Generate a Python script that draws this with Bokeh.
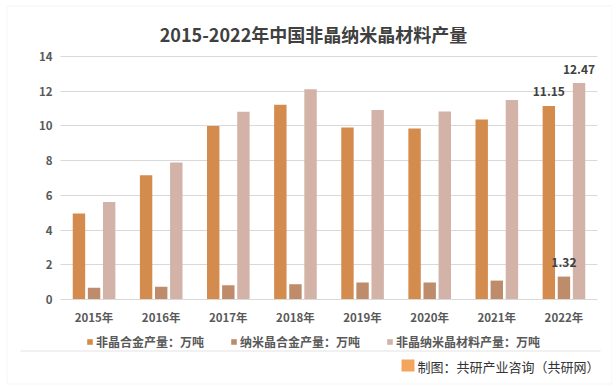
from bokeh.plotting import figure
from bokeh.models import (ColumnDataSource, Range1d, FixedTicker, Legend, LegendItem,
                          Label, BoxAnnotation, LinearAxis, Grid)
from bokeh.transform import dodge
from bokeh.core.properties import value
from bokeh.embed import file_html
from bokeh.resources import INLINE

years = ["2015年", "2016年", "2017年", "2018年", "2019年", "2020年", "2021年", "2022年"]
amorphous = [4.96, 7.16, 10.0, 11.22, 9.91, 9.85, 10.37, 11.15]
nanocrystal = [0.67, 0.73, 0.82, 0.88, 0.98, 0.98, 1.09, 1.32]
total = [5.62, 7.89, 10.82, 12.12, 10.92, 10.83, 11.50, 12.47]
series_names = ["非晶合金产量：万吨", "纳米晶合金产量：万吨", "非晶纳米晶材料产量：万吨"]
colors = ["#D48B4E", "#BE8C6B", "#D3B3A8"]
y_ticks = [0, 2, 4, 6, 8, 10, 12, 14]
label_years = ["2022年"]

FONT = "Noto Sans CJK SC"
GRAY = "#595959"

W, H = 612, 386
# plot area in canvas pixels
PL, PR, PT, PB = 60, 597, 56, 299
n = len(years)
kx = (PR - PL) / n
ky = (PB - PT) / y_ticks[-1]

pos = [i + 0.5 for i in range(n)]   # category centres
src = ColumnDataSource(dict(pos=pos, year=years, a=amorphous, n=nanocrystal, t=total))

p = figure(width=W, height=H, title=None,
           x_range=Range1d(-PL / kx, (W - PL) / kx),
           y_range=Range1d(-(H - PB) / ky, y_ticks[-1] + PT / ky),
           x_axis_location=None, y_axis_location=None,
           output_backend="svg", toolbar_location=None, min_border=0)
p.outline_line_color = None
p.xgrid.visible = False
p.ygrid.visible = False

# y axis (fixed at x=0 so it sits at the plot-area edge)
yax = LinearAxis(fixed_location=0, ticker=FixedTicker(ticks=y_ticks))
yax.axis_line_color = None
yax.major_tick_line_color = None
yax.minor_tick_line_color = None
yax.major_tick_out = 0
yax.major_tick_in = 0
yax.major_label_standoff = 8
yax.major_label_text_font = FONT
yax.major_label_text_font_size = "11.5px"
yax.major_label_text_font_style = "bold"
yax.major_label_text_color = GRAY
p.add_layout(yax, "left")

# x axis (fixed at y=0)
xax = LinearAxis(fixed_location=0, ticker=FixedTicker(ticks=pos), bounds=(0, n),
                 major_label_overrides={p_: y_ for p_, y_ in zip(pos, years)})
xax.axis_line_color = "#D9D9D9"
xax.major_tick_line_color = None
xax.minor_tick_line_color = None
xax.major_tick_out = 0
xax.major_tick_in = 0
xax.major_label_standoff = 9
xax.major_label_text_font = FONT
xax.major_label_text_font_size = "11.5px"
xax.major_label_text_font_style = "bold"
xax.major_label_text_color = GRAY
p.add_layout(xax, "below")

# horizontal gridlines limited to the plot area
grid = Grid(dimension=1, ticker=FixedTicker(ticks=[t for t in y_ticks if t > 0]),
            grid_line_color="#D9D9D9")
if "cross_bounds" in Grid.properties():
    grid.cross_bounds = (0, n)
    p.add_layout(grid)
else:
    p.segment(x0=[0] * len(y_ticks[1:]), x1=[n] * len(y_ticks[1:]), y0=y_ticks[1:], y1=y_ticks[1:],
              line_color="#D9D9D9", line_width=1)

BW = 0.185
OFF = 0.225
r1 = p.vbar(x=dodge("pos", -OFF), top="a", width=BW, source=src,
            fill_color=colors[0], line_color=None)
r2 = p.vbar(x=dodge("pos", 0.0), top="n", width=BW, source=src,
            fill_color=colors[1], line_color=None)
r3 = p.vbar(x=dodge("pos", OFF), top="t", width=BW, source=src,
            fill_color=colors[2], line_color=None)

# data labels for the last year
i = years.index(label_years[0])
for off, val in zip([-OFF, 0.0, OFF], [amorphous[i], nanocrystal[i], total[i]]):
    s = ColumnDataSource(dict(pos=[pos[i]], v=[val], txt=[f"{val:.2f}"]))
    p.text(x=dodge("pos", off), y="v", text="txt", source=s,
           text_align="center", text_baseline="middle", y_offset=-14,
           text_font=value(FONT), text_font_size="12px", text_font_style="bold",
           text_color="#404040")

# title
p.add_layout(Label(x=313, y=H - 33, x_units="screen", y_units="screen",
                   text="2015-2022年中国非晶纳米晶材料产量", text_align="center",
                   text_baseline="middle", text_font=FONT, text_font_size="18px",
                   text_font_style="bold", text_color="#404040"))

legend = Legend(items=[LegendItem(label=series_names[0], renderers=[r1]),
                       LegendItem(label=series_names[1], renderers=[r2]),
                       LegendItem(label=series_names[2], renderers=[r3])],
                orientation="horizontal", location=(86, H - 351),
                glyph_width=7, glyph_height=7, label_standoff=3, spacing=26,
                padding=0, margin=0, border_line_color=None, background_fill_alpha=0,
                label_text_font=FONT, label_text_font_size="12px",
                label_text_font_style="bold", label_text_color=GRAY, label_height=20)
p.add_layout(legend, "center")

def sbox(l, r, t, b, **kw):
    return BoxAnnotation(left=l, right=r, top=H - t, bottom=H - b,
                         left_units="screen", right_units="screen",
                         top_units="screen", bottom_units="screen", **kw)

# separator line and outer border
p.add_layout(sbox(20, 600, 350, 351, fill_color="#E3E3E3", fill_alpha=1, line_alpha=0))
p.add_layout(sbox(6.5, 611.5, 5.5, 383.5, fill_alpha=0, line_color="#D9D9D9", line_width=1))

# footer
p.add_layout(sbox(401, 414, 359, 371, fill_color="#F29B4C", fill_alpha=0.9, line_alpha=0))
p.add_layout(Label(x=599, y=H - 366, x_units="screen", y_units="screen",
                   text="制图：共研产业咨询（共研网）", text_align="right", text_baseline="middle",
                   text_font=FONT, text_font_size="13px", text_color="#333333"))

open("out.html", "w").write(file_html(p, INLINE))
